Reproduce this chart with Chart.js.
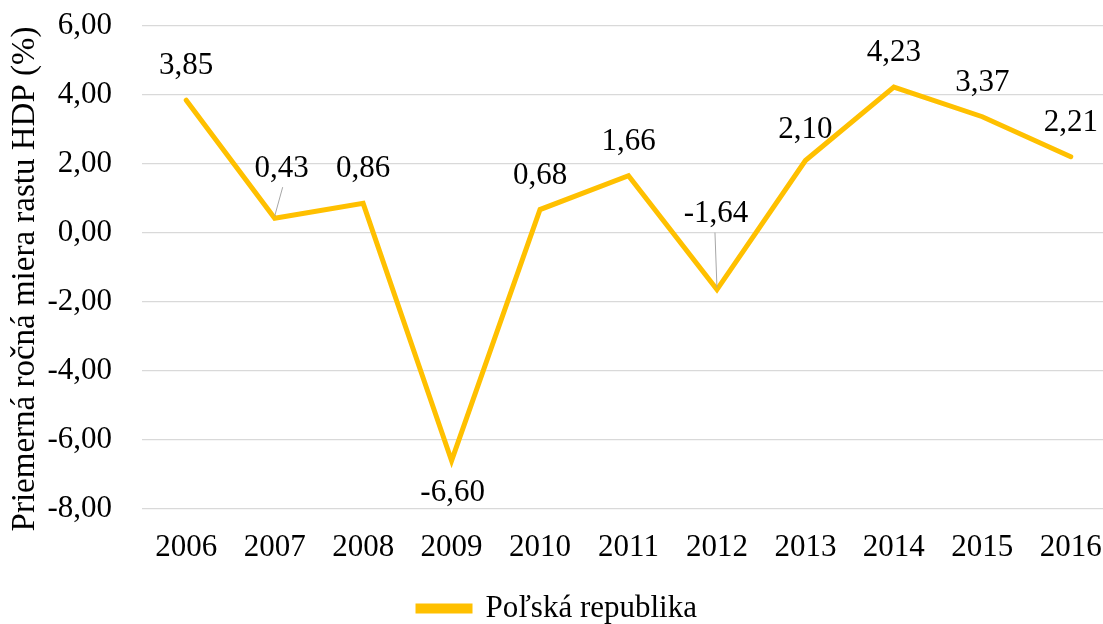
<!DOCTYPE html>
<html>
<head>
<meta charset="utf-8">
<script src="https://cdn.jsdelivr.net/npm/chart.js@4"></script>
<style>
  html, body { margin: 0; padding: 0; background: #fff; overflow: hidden; }
  #wrap { position: relative; width: 1118px; height: 638px; }
</style>
</head>
<body>
<div id="wrap"><canvas id="chart"></canvas></div>
<script>
// Údaje z grafu
const years = ["2006", "2007", "2008", "2009", "2010", "2011", "2012", "2013", "2014", "2015", "2016"];
const growthPL = [3.85, 0.43, 0.86, -6.60, 0.68, 1.66, -1.64, 2.10, 4.23, 3.37, 2.21];
const seriesName = "Poľská republika";
const axisTitle = "Priemerná ročná miera rastu HDP (%)";

const FONT = "'Liberation Serif', 'Times New Roman', serif";
const fmt = (v) => v.toFixed(2).replace(".", ",");

// posun popiskov (dx, dy k baseline) a odkazové čiary
const labelOffsets = {
  default: [0, -26],
  1: [7, -41],
  3: [1, 40],
  6: [-1, -68],
  7: [0, -23]
};
const leaderLines = {
  1: [8, -31, 0, -2],
  6: [-2, -57, 0, -2]
};

const dataLabels = {
  id: "dataLabels",
  afterDatasetsDraw(chart) {
    const ctx = chart.ctx;
    const meta = chart.getDatasetMeta(0);
    ctx.save();
    meta.data.forEach((pt, i) => {
      const lead = leaderLines[i];
      if (lead) {
        ctx.strokeStyle = "#a6a6a6";
        ctx.lineWidth = 1;
        ctx.beginPath();
        ctx.moveTo(pt.x + lead[0], pt.y + lead[1]);
        ctx.lineTo(pt.x + lead[2], pt.y + lead[3]);
        ctx.stroke();
      }
      const off = labelOffsets[i] || labelOffsets.default;
      ctx.fillStyle = "#000";
      ctx.font = "31px " + FONT;
      ctx.textAlign = "center";
      ctx.textBaseline = "alphabetic";
      ctx.fillText(fmt(growthPL[i]), pt.x + off[0], pt.y + off[1]);
    });
    // názov osi Y
    ctx.translate(25, 279);
    ctx.rotate(-Math.PI / 2);
    ctx.font = "33px " + FONT;
    ctx.textBaseline = "middle";
    ctx.fillText(axisTitle, 0, 0);
    ctx.restore();
  }
};

new Chart(document.getElementById("chart"), {
  type: "line",
  data: {
    labels: years,
    datasets: [
      {
        label: seriesName,
        data: growthPL,
        borderColor: "#ffc000",
        backgroundColor: "#ffc000",
        borderWidth: 5,
        borderCapStyle: "round",
        borderJoinStyle: "miter",
        pointRadius: 0,
        tension: 0
      }
    ]
  },
  options: {
    responsive: true,
    maintainAspectRatio: false,
    animation: false,
    layout: {
      padding: { top: 26, right: 3, left: 0, bottom: 4 }
    },
    plugins: {
      tooltip: { enabled: false },
      legend: {
        display: true,
        position: "bottom",
        labels: {
          color: "#000",
          font: { family: FONT, size: 31 },
          boxWidth: 52,
          boxHeight: 5,
          padding: 6
        }
      }
    },
    scales: {
      x: {
        offset: true,
        grid: { display: true, color: "transparent", tickColor: "transparent", drawTicks: true, tickLength: 17, offset: true },
        border: { display: false },
        ticks: {
          color: "#000",
          font: { family: FONT, size: 31 },
          padding: 3,
          maxRotation: 0
        },
        afterFit(scale) { scale.height = 78; }
      },
      y: {
        min: -8,
        max: 6,
        grid: { color: "#d9d9d9", lineWidth: 1.3, drawTicks: true, tickLength: 27, tickColor: "transparent" },
        border: { display: false },
        ticks: {
          stepSize: 2,
          color: "#000",
          font: { family: FONT, size: 31 },
          padding: 3,
          callback: (v) => fmt(v)
        },
        afterFit(scale) { scale.width = 142; }
      }
    }
  },
  plugins: [dataLabels]
});
</script>
</body>
</html>
